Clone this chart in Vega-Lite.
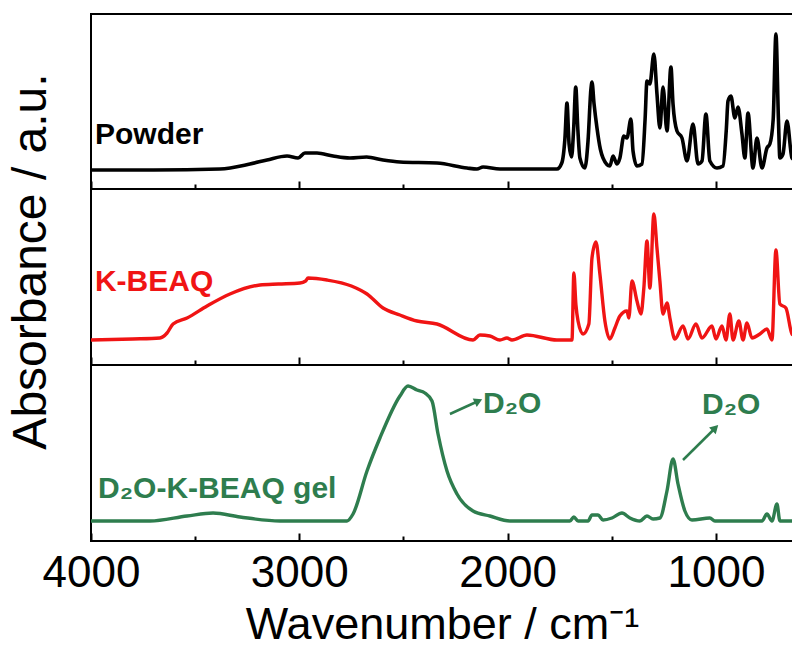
{
  "$schema": "https://vega.github.io/schema/vega-lite/v6.json",
  "padding": {"left": 5, "top": 13, "right": 0, "bottom": 0},
  "background": "white",
  "bounds": "flush",
  "config": {
    "view": {"stroke": "black", "strokeWidth": 2},
    "font": "Liberation Sans",
    "axis": {"grid": false}
  },
  "spacing": 0,
  "datasets": {
    "powder": [
      {"wn":4000,"a":19},{"wn":3700,"a":19},{"wn":3381,"a":20},{"wn":3237,"a":25},{"wn":3155,"a":29},{"wn":3059,"a":33},{"wn":3006,"a":31},{"wn":2973,"a":36},{"wn":2915,"a":36},{"wn":2838,"a":33},{"wn":2757,"a":31},{"wn":2677,"a":32},{"wn":2598,"a":29},{"wn":2517,"a":27},{"wn":2339,"a":26},{"wn":2195,"a":21},{"wn":2147,"a":20},{"wn":2118,"a":22},{"wn":2037,"a":20},{"wn":1900,"a":20},{"wn":1763,"a":20},{"wn":1740,"a":26},{"wn":1725,"a":50},{"wn":1715,"a":86},{"wn":1705,"a":45},{"wn":1693,"a":32},{"wn":1683,"a":60},{"wn":1673,"a":102},{"wn":1663,"a":60},{"wn":1653,"a":31},{"wn":1629,"a":21},{"wn":1614,"a":48},{"wn":1600,"a":100},{"wn":1595,"a":107},{"wn":1585,"a":85},{"wn":1571,"a":61},{"wn":1555,"a":40},{"wn":1542,"a":31},{"wn":1509,"a":23},{"wn":1494,"a":33},{"wn":1475,"a":25},{"wn":1461,"a":31},{"wn":1442,"a":53},{"wn":1427,"a":51},{"wn":1408,"a":70},{"wn":1398,"a":38},{"wn":1379,"a":23},{"wn":1355,"a":25},{"wn":1340,"a":70},{"wn":1331,"a":108},{"wn":1317,"a":105},{"wn":1298,"a":135},{"wn":1283,"a":95},{"wn":1269,"a":61},{"wn":1254,"a":102},{"wn":1235,"a":58},{"wn":1216,"a":122},{"wn":1206,"a":85},{"wn":1187,"a":58},{"wn":1163,"a":51},{"wn":1139,"a":28},{"wn":1110,"a":65},{"wn":1086,"a":25},{"wn":1067,"a":28},{"wn":1048,"a":75},{"wn":1029,"a":28},{"wn":995,"a":21},{"wn":966,"a":23},{"wn":950,"a":60},{"wn":942,"a":88},{"wn":928,"a":93},{"wn":909,"a":71},{"wn":894,"a":82},{"wn":875,"a":55},{"wn":861,"a":31},{"wn":846,"a":76},{"wn":822,"a":21},{"wn":803,"a":51},{"wn":779,"a":21},{"wn":755,"a":41},{"wn":741,"a":45},{"wn":725,"a":70},{"wn":712,"a":155},{"wn":700,"a":70},{"wn":693,"a":31},{"wn":678,"a":35},{"wn":659,"a":68},{"wn":635,"a":31},{"wn":630,"a":30}
    ],
    "kbeaq": [
      {"wn":4000,"a":25},{"wn":3800,"a":26},{"wn":3669,"a":27},{"wn":3635,"a":32},{"wn":3606,"a":41},{"wn":3539,"a":47},{"wn":3443,"a":59},{"wn":3333,"a":71},{"wn":3189,"a":80},{"wn":3100,"a":81},{"wn":2997,"a":82},{"wn":2970,"a":84},{"wn":2958,"a":87},{"wn":2867,"a":85},{"wn":2750,"a":79},{"wn":2675,"a":71},{"wn":2598,"a":57},{"wn":2517,"a":50},{"wn":2435,"a":44},{"wn":2339,"a":41},{"wn":2166,"a":25},{"wn":2133,"a":30},{"wn":2085,"a":29},{"wn":2037,"a":25},{"wn":2003,"a":27},{"wn":1979,"a":25},{"wn":1907,"a":30},{"wn":1763,"a":25},{"wn":1691,"a":25},{"wn":1682,"a":92},{"wn":1672,"a":60},{"wn":1662,"a":44},{"wn":1638,"a":31},{"wn":1610,"a":41},{"wn":1595,"a":107},{"wn":1576,"a":123},{"wn":1557,"a":91},{"wn":1533,"a":44},{"wn":1509,"a":26},{"wn":1485,"a":37},{"wn":1461,"a":49},{"wn":1427,"a":54},{"wn":1418,"a":47},{"wn":1403,"a":84},{"wn":1379,"a":64},{"wn":1360,"a":51},{"wn":1346,"a":77},{"wn":1331,"a":124},{"wn":1317,"a":77},{"wn":1298,"a":151},{"wn":1283,"a":117},{"wn":1269,"a":84},{"wn":1254,"a":51},{"wn":1235,"a":62},{"wn":1221,"a":47},{"wn":1197,"a":26},{"wn":1158,"a":39},{"wn":1134,"a":26},{"wn":1096,"a":41},{"wn":1067,"a":27},{"wn":1019,"a":39},{"wn":1000,"a":26},{"wn":971,"a":39},{"wn":952,"a":25},{"wn":933,"a":51},{"wn":918,"a":25},{"wn":890,"a":44},{"wn":870,"a":25},{"wn":851,"a":42},{"wn":827,"a":27},{"wn":789,"a":31},{"wn":755,"a":36},{"wn":731,"a":25},{"wn":712,"a":115},{"wn":693,"a":61},{"wn":664,"a":57},{"wn":635,"a":31},{"wn":630,"a":30}
    ],
    "gel": [
      {"wn":4000,"a":20},{"wn":3717,"a":20},{"wn":3539,"a":25},{"wn":3414,"a":28},{"wn":3285,"a":24},{"wn":3093,"a":20},{"wn":2771,"a":20},{"wn":2742,"a":27},{"wn":2675,"a":70},{"wn":2613,"a":103},{"wn":2517,"a":145},{"wn":2478,"a":155},{"wn":2435,"a":151},{"wn":2397,"a":148},{"wn":2363,"a":140},{"wn":2334,"a":107},{"wn":2291,"a":70},{"wn":2243,"a":47},{"wn":2166,"a":30},{"wn":2085,"a":25},{"wn":1989,"a":20},{"wn":1701,"a":20},{"wn":1682,"a":24},{"wn":1662,"a":20},{"wn":1614,"a":20},{"wn":1595,"a":26},{"wn":1566,"a":26},{"wn":1542,"a":21},{"wn":1499,"a":23},{"wn":1451,"a":28},{"wn":1413,"a":23},{"wn":1365,"a":20},{"wn":1331,"a":25},{"wn":1302,"a":22},{"wn":1269,"a":23},{"wn":1235,"a":50},{"wn":1206,"a":82},{"wn":1182,"a":57},{"wn":1149,"a":30},{"wn":1115,"a":21},{"wn":1029,"a":23},{"wn":1005,"a":20},{"wn":779,"a":20},{"wn":755,"a":27},{"wn":731,"a":20},{"wn":707,"a":37},{"wn":693,"a":20},{"wn":635,"a":20},{"wn":630,"a":20}
    ]
  },
  "vconcat": [
    {
      "width": 702,
      "height": 175,
      "layer": [
        {
          "data": {"name": "powder"},
          "mark": {"type": "line", "color": "black", "strokeWidth": 3.6, "clip": true, "interpolate": "monotone"},
          "encoding": {
            "x": {"field": "wn", "type": "quantitative", "scale": {"domain": [4000, 630], "nice": false, "zero": false},
              "axis": {"values": [4000,3500,3000,2500,2000,1500,1000], "labels": false, "domain": false, "title": null, "tickColor": "black", "tickWidth": 2,
                "tickSize": {"condition": {"test": "datum.value % 1000 === 0", "value": -8}, "value": -5}}},
            "y": {"field": "a", "type": "quantitative", "scale": {"domain": [0, 175], "nice": false},
              "axis": {"title": "A", "ticks": false, "labels": false, "domain": false, "titleOpacity": 0, "titleFontSize": 48, "titlePadding": 36}}
          }
        },
        {
          "data": {"values": [{"wn": 3981, "a": 45, "label": "Powder"}]},
          "mark": {"type": "text", "align": "left", "baseline": "alphabetic", "fontSize": 30, "fontWeight": "bold", "color": "black"},
          "encoding": {
            "x": {"field": "wn", "type": "quantitative"},
            "y": {"field": "a", "type": "quantitative"},
            "text": {"field": "label"}
          }
        }
      ]
    },
    {
      "width": 702,
      "height": 176,
      "layer": [
        {
          "data": {"name": "kbeaq"},
          "mark": {"type": "line", "color": "#f01414", "strokeWidth": 3.4, "clip": true, "interpolate": "monotone"},
          "encoding": {
            "x": {"field": "wn", "type": "quantitative", "scale": {"domain": [4000, 630], "nice": false, "zero": false},
              "axis": {"values": [4000,3500,3000,2500,2000,1500,1000], "labels": false, "domain": false, "title": null, "tickColor": "black", "tickWidth": 2,
                "tickSize": {"condition": {"test": "datum.value % 1000 === 0", "value": -8}, "value": -5}}},
            "y": {"field": "a", "type": "quantitative", "scale": {"domain": [0, 176], "nice": false},
              "axis": {"title": "Absorbance / a.u.", "ticks": false, "labels": false, "domain": false, "titleFontSize": 48, "titleFontWeight": "normal", "titleColor": "black", "titleFont": "Liberation Sans", "titlePadding": 36, "titleY": 72, "titleAlign": "center"}}
          }
        },
        {
          "data": {"values": [{"wn": 3981, "a": 74, "label": "K-BEAQ"}]},
          "mark": {"type": "text", "align": "left", "baseline": "alphabetic", "fontSize": 30, "fontWeight": "bold", "color": "#f01414"},
          "encoding": {
            "x": {"field": "wn", "type": "quantitative"},
            "y": {"field": "a", "type": "quantitative"},
            "text": {"field": "label"}
          }
        }
      ]
    },
    {
      "width": 702,
      "height": 176,
      "layer": [
        {
          "data": {"name": "gel"},
          "mark": {"type": "line", "color": "#2e7d4e", "strokeWidth": 3.4, "clip": true, "interpolate": "monotone"},
          "encoding": {
            "x": {"field": "wn", "type": "quantitative", "scale": {"domain": [4000, 630], "nice": false, "zero": false},
              "axis": {"values": [4000,3500,3000,2500,2000,1500,1000], "labelExpr": "datum.value % 1000 === 0 ? datum.label : ''", "format": "d", "labelFontSize": 44, "labelFont": "Liberation Sans", "labelColor": "black", "labelPadding": 18, "labelFlush": false, "labelOverlap": false, "domain": false, "title": "Wavenumber / cm⁻¹", "titleFontSize": 45, "titleFontWeight": "normal", "titleColor": "black", "titlePadding": 4, "tickColor": "black", "tickWidth": 2,
                "tickSize": {"condition": {"test": "datum.value % 1000 === 0", "value": -8}, "value": -5}}},
            "y": {"field": "a", "type": "quantitative", "scale": {"domain": [0, 176], "nice": false},
              "axis": {"title": "A", "ticks": false, "labels": false, "domain": false, "titleOpacity": 0, "titleFontSize": 48, "titlePadding": 36}}
          }
        },
        {
          "data": {"values": [{"wn": 3966, "a": 43, "label": "D₂O-K-BEAQ gel"}, {"wn": 2118, "a": 128, "label": "D₂O"}, {"wn": 1067, "a": 127, "label": "D₂O"}]},
          "mark": {"type": "text", "align": "left", "baseline": "alphabetic", "fontSize": 30, "fontWeight": "bold", "color": "#2e7d4e"},
          "encoding": {
            "x": {"field": "wn", "type": "quantitative"},
            "y": {"field": "a", "type": "quantitative"},
            "text": {"field": "label"}
          }
        },
        {
          "data": {"values": [{"wn": 2277, "a": 127, "wn2": 2140, "a2": 140}, {"wn": 1158, "a": 81, "wn2": 1003, "a2": 113}]},
          "mark": {"type": "rule", "color": "#2e7d4e", "strokeWidth": 2.5},
          "encoding": {
            "x": {"field": "wn", "type": "quantitative"},
            "y": {"field": "a", "type": "quantitative"},
            "x2": {"field": "wn2"},
            "y2": {"field": "a2"}
          }
        },
        {
          "data": {"values": [{"wn": 2140, "a": 140, "ang": -25}, {"wn": 1003, "a": 113, "ang": -45}]},
          "mark": {"type": "point", "shape": "triangle-right", "filled": true, "color": "#2e7d4e", "size": 90, "opacity": 1},
          "encoding": {
            "x": {"field": "wn", "type": "quantitative"},
            "y": {"field": "a", "type": "quantitative"},
            "angle": {"field": "ang", "type": "quantitative", "scale": null}
          }
        }
      ]
    }
  ]
}
